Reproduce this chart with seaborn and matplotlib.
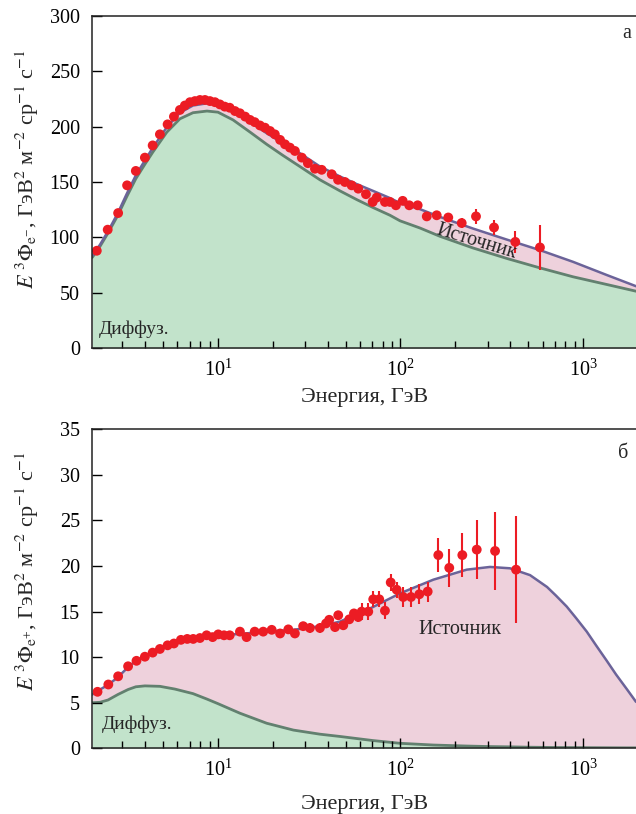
import numpy as np
import pandas as pd
import matplotlib
matplotlib.use("Agg")
import matplotlib.pyplot as plt
import matplotlib.ticker as mticker
import seaborn as sns

# ---------------- data: electrons (panel a) ----------------
E_el = [2.17, 2.49, 2.84, 3.18, 3.55, 3.98, 4.39, 4.81, 5.30, 5.74,
        6.19, 6.59, 7.03, 7.48, 7.97, 8.49, 9.04, 9.63, 10.25, 10.9,
        11.6, 12.4, 13.2, 14.1, 15.0, 15.9, 17.0, 18.1, 19.3, 20.5,
        21.9, 23.3, 24.8, 26.4, 28.8, 31.1, 34.0, 37.0, 42.0, 45.5,
        49.6, 54.0, 58.7, 64.7, 70.4, 74.1, 82.2, 87.6, 94.4, 102.8,
        111.7, 124.2, 139.3, 157.9, 182.7, 216.4, 259.2, 325.3, 425.4, 580.7]
F_el = [88, 107, 122, 147, 160, 172, 183, 193, 202, 209,
        215, 219, 222, 223, 224, 224, 223, 222, 220, 218,
        217, 214, 212, 209, 206, 204, 201, 199, 196, 193,
        188, 184, 181, 178, 172, 167, 162, 161, 157, 152,
        150, 147, 144, 139, 132, 136, 132, 132, 129, 133,
        129, 129, 119, 120, 118, 113, 119, 109, 96, 91]
Err_el = [1.5] * 52 + [2.5, 3, 3.5, 4.5, 7, 7, 10, 20]

E_top_curve = [2.05, 2.26, 2.50, 2.83, 3.17, 3.55, 3.98, 4.40, 5.25, 6.19,
               7.30, 8.71, 10.0, 12.1, 15.0, 18.5, 22.7, 28.1, 36.2, 46.6,
               57.8, 70.7, 87.6, 99.4, 127.9, 164.6, 249.7, 383.4, 581.4, 881.4,
               1354, 1952]
diff_top = [82, 92, 104, 120, 137, 153, 166, 177, 195, 207,
            212.5, 214, 213, 206, 195, 184, 174, 164, 152, 142,
            134, 127, 120, 115, 108.5, 101, 90.5, 81, 72.5, 64.5,
            57.5, 51.5]
total_top = [83.5, 93.5, 105.5, 122, 139.5, 156, 169.5, 181, 199.5, 212.5,
             219, 221, 220.5, 214, 204, 194, 185, 176, 164, 155,
             148, 142, 135.5, 131, 125.5, 118.5, 108, 98, 88.5, 78,
             66, 56]

# ---------------- data: positrons (panel б) ----------------
E_pos = [2.19, 2.51, 2.84, 3.22, 3.58, 3.98, 4.39, 4.81, 5.30, 5.74,
         6.27, 6.79, 7.32, 7.97, 8.67, 9.35, 10.04, 10.8, 11.6, 13.2,
         14.35, 15.9, 17.7, 19.7, 21.9, 24.3, 26.4, 29.3, 31.9, 36.2,
         39.1, 40.7, 43.8, 45.6, 48.6, 52.4, 55.6, 58.7, 61.3, 66.6,
         70.9, 76.5, 82.2, 88.4, 95.3, 103.5, 114.2, 126.8, 140.9, 161.1,
         185.0, 218.1, 261.6, 329.6, 429.5]
F_pos = [6.2, 7.0, 7.9, 9.0, 9.6, 10.05, 10.5, 10.9, 11.3, 11.5,
         11.9, 12.0, 12.0, 12.1, 12.4, 12.2, 12.5, 12.4, 12.4, 12.8,
         12.2, 12.8, 12.8, 13.0, 12.6, 13.05, 12.6, 13.4, 13.2, 13.2,
         13.7, 14.1, 13.3, 14.6, 13.5, 14.15, 14.8, 14.4, 15.0, 15.0,
         16.35, 16.35, 15.1, 18.2, 17.4, 16.6, 16.6, 16.9, 17.2, 21.2,
         19.8, 21.2, 21.8, 21.65, 19.6]
Err_pos = [0.15] * 28 + [0.5] * 10 + [0.9] * 7 + [1.1] * 4 + [1.9, 2.1, 2.4, 3.2, 4.3, 5.9]

E_bot_curve = [2.05, 2.26, 2.50, 2.83, 3.22, 3.55, 3.98, 4.81, 5.81, 7.30,
               8.71, 10.0, 13.2, 18.5, 25.9, 36.2, 46.6, 70.7, 99.4, 151.3,
               230.5, 309.4, 398.1, 512.5, 635, 711, 814, 915, 1048, 1178,
               1349, 1516, 1736, 1950]
diff_bot = [5.0, 5.05, 5.3, 5.9, 6.45, 6.75, 6.85, 6.8, 6.5, 6.0,
            5.4, 4.9, 3.85, 2.75, 2.0, 1.55, 1.3, 0.85, 0.55, 0.36,
            0.25, 0.19, 0.16, 0.12, 0.1, 0.09, 0.085, 0.08, 0.07, 0.065,
            0.06, 0.055, 0.05, 0.05]
total_bot = [5.9, 6.45, 6.95, 7.8, 8.9, 9.6, 10.1, 10.9, 11.5, 12.0,
             12.2, 12.4, 12.55, 12.8, 13.0, 13.4, 13.9, 15.5, 17.0, 18.5,
             19.6, 19.9, 19.75, 19.0, 17.7, 16.75, 15.55, 14.3, 12.8, 11.3,
             9.6, 8.1, 6.5, 5.1]

# ---------------- styling ----------------
sns.set_style("ticks")
plt.rcParams["font.family"] = ["Liberation Serif", "DejaVu Serif"]
plt.rcParams["mathtext.fontset"] = "stix"
plt.rcParams["font.size"] = 14.5

GREEN_FILL = "#c2e3cb"
GREEN_LINE = "#62806f"
PINK_FILL = "#eed1dc"
PURPLE_LINE = "#6b6399"
RED = "#ec1c24"

fig = plt.figure(figsize=(6.36, 8.14), dpi=100)
ax1 = fig.add_axes([0.1451, 0.5721, 0.8549, 0.4086])
ax2 = fig.add_axes([0.1451, 0.0807, 0.8549, 0.3919])


def draw_panel(ax, Ec, diff, total, E, F, Err):
    ax.set_xscale("log")
    ax.set_axisbelow(False)
    ax.fill_between(Ec, 0, diff, color=GREEN_FILL, lw=0, zorder=1)
    ax.fill_between(Ec, diff, total, color=PINK_FILL, lw=0, zorder=1)
    sns.lineplot(x=Ec, y=diff, ax=ax, color=GREEN_LINE, lw=2.0, zorder=2)
    sns.lineplot(x=Ec, y=total, ax=ax, color=PURPLE_LINE, lw=1.8, zorder=2)
    ax.errorbar(E, F, yerr=Err, fmt="none", ecolor=RED, elinewidth=1.5,
                capsize=0, zorder=3)
    sns.scatterplot(x=E, y=F, ax=ax, color=RED, s=50, edgecolor="none",
                    linewidth=0, zorder=4)
    ax.set_xlim(2.05, 1950)
    ax.xaxis.set_major_locator(mticker.LogLocator(base=10, numticks=10))
    ax.xaxis.set_minor_locator(mticker.LogLocator(base=10, subs=np.arange(2, 10), numticks=20))
    ax.xaxis.set_minor_formatter(mticker.NullFormatter())
    ax.tick_params(axis="both", which="major", direction="in", length=7,
                   width=1.0, colors="black", labelsize=14.5, top=False, right=False)
    ax.tick_params(axis="x", which="major", pad=8)
    ax.tick_params(axis="y", which="major", pad=9)
    ax.tick_params(axis="x", which="minor", direction="in", length=5,
                   width=1.0, color="black", top=False)
    for s in ["left", "bottom", "top"]:
        ax.spines[s].set_linewidth(1.1)
        ax.spines[s].set_color("#222222")
        ax.spines[s].set_zorder(5)
    ax.spines["right"].set_visible(False)
    ax.set_xlabel("Энергия, ГэВ", fontsize=16)


draw_panel(ax1, E_top_curve, diff_top, total_top, E_el, F_el, Err_el)
draw_panel(ax2, E_bot_curve, diff_bot, total_bot, E_pos, F_pos, Err_pos)

ax1.set_ylim(0, 300)
ax1.set_yticks(np.arange(0, 301, 50))
ax2.set_ylim(0, 35)
ax2.set_yticks(np.arange(0, 36, 5))

ax1.set_ylabel(r"$E\ {}^{3}\Phi_{\mathrm{e}^{-}}$, ГэВ$^{2}$ м$^{-2}$ ср$^{-1}$ с$^{-1}$", fontsize=16)
ax2.set_ylabel(r"$E\ {}^{3}\Phi_{\mathrm{e}^{+}}$, ГэВ$^{2}$ м$^{-2}$ ср$^{-1}$ с$^{-1}$", fontsize=16)
ax1.yaxis.set_label_coords(-0.095, 0.54)
ax2.yaxis.set_label_coords(-0.095, 0.555)
ax1.xaxis.set_label_coords(0.5, -0.12)
ax2.xaxis.set_label_coords(0.5, -0.145)

ax1.text(0.983, 0.948, "а", transform=ax1.transAxes, ha="center", va="center", fontsize=14.5)
ax2.text(0.977, 0.925, "б", transform=ax2.transAxes, ha="center", va="center", fontsize=14.5)
ax1.text(0.012, 0.043, "Диффуз.", transform=ax1.transAxes, ha="left", va="baseline", fontsize=14)
ax2.text(0.017, 0.062, "Диффуз.", transform=ax2.transAxes, ha="left", va="baseline", fontsize=14)
ax1.text(262, 96, "Источник", ha="center", va="center", rotation=-17,
         rotation_mode="anchor", fontsize=14.5)
ax2.text(212, 13.0, "Источник", ha="center", va="center", fontsize=14.5)

fig.savefig("out.png", dpi=100)
